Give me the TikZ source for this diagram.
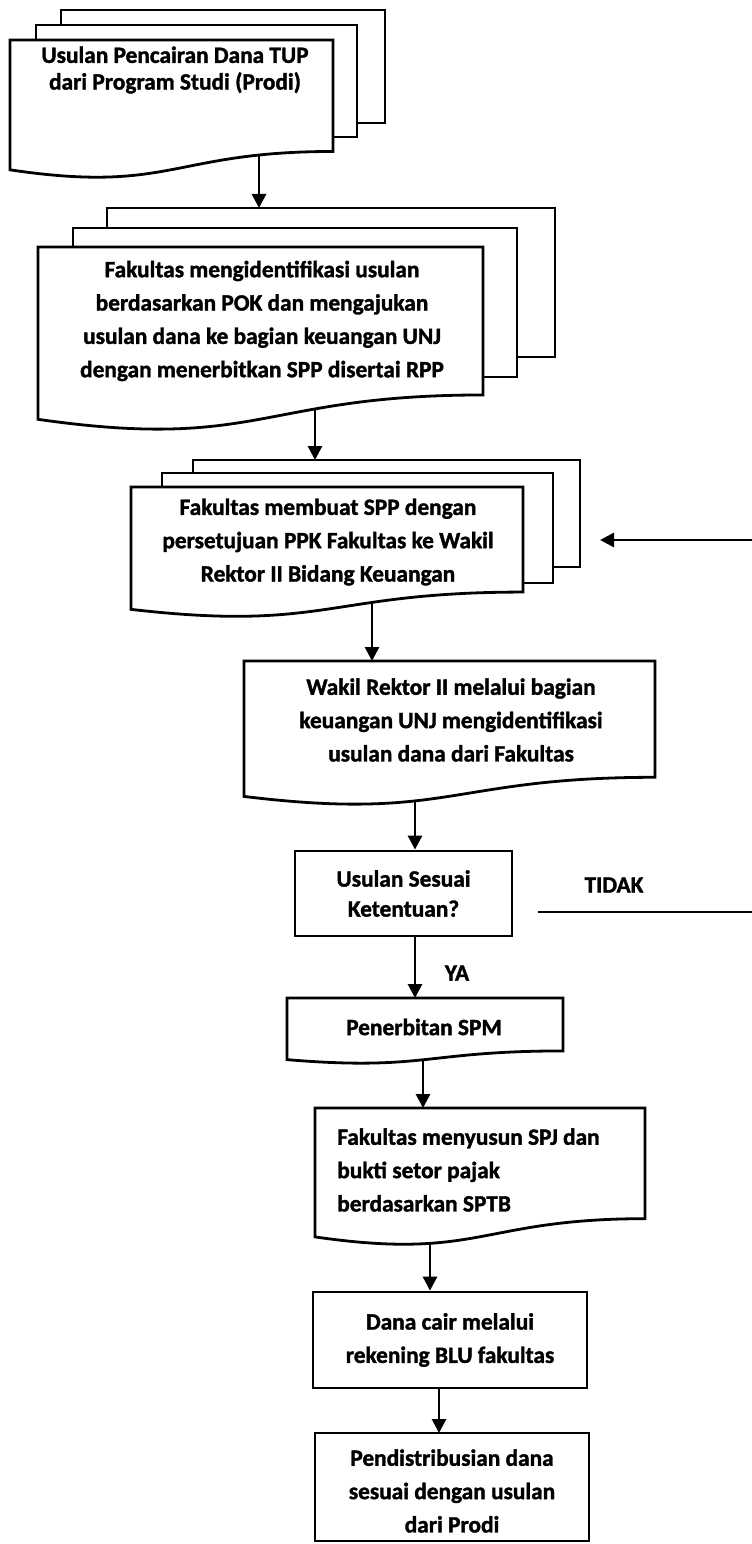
\documentclass[tikz,border=0pt]{standalone}
\usepackage{fontspec}
\setmainfont{Carlito}[BoldFeatures={FakeBold=1.5}]
\usetikzlibrary{arrows.meta}

\newcommand{\docsheet}[4]{%
  \draw[sheet] (#1,#2) -- (#3,#2) -- (#3,{#2+0.802*#4})
    .. controls ({(#1+#3)/2},{#2+0.802*#4}) and ({(#1+#3)/2},{#2+1.107*#4}) .. (#1,{#2+0.934*#4}) -- cycle;}

\begin{document}
\begin{tikzpicture}[x=0.75pt,y=-0.75pt,
  sheet/.style={draw,line width=2.1pt,fill=white},
  txt/.style={font=\bfseries\fontsize{17.5}{25}\selectfont,align=center,inner sep=0pt},
  arr/.style={-{Triangle[width=10.5pt,length=10.5pt]},line width=2.1pt}]
\useasboundingbox (0,0) rectangle (752,1544);

\draw[sheet] (61,10) rectangle (385,123);
\draw[sheet] (36,25) rectangle (357,137);
\docsheet{10}{40}{333}{139}
\node[txt,font=\bfseries\fontsize{17.5}{20}\selectfont] (prodi) at (175,70) {Usulan Pencairan Dana TUP\\dari Program Studi (Prodi)};

\draw[sheet] (107,208) rectangle (555,357);
\draw[sheet] (73,228) rectangle (517,377);
\docsheet{38}{247}{483}{184.5}
\node[txt] (pok) at (262,321) {Fakultas mengidentifikasi usulan\\berdasarkan POK dan mengajukan\\usulan dana ke bagian keuangan UNJ\\dengan menerbitkan SPP disertai RPP};

\draw[sheet] (193,460) rectangle (580,567);
\draw[sheet] (162,473) rectangle (553,583);
\docsheet{131}{487}{523}{131}
\node[txt] (spp) at (328,542) {Fakultas membuat SPP dengan\\persetujuan PPK Fakultas ke Wakil\\Rektor II Bidang Keuangan};

\docsheet{244}{661}{655}{145}
\node[txt] (wr) at (451,720) {Wakil Rektor II melalui bagian\\keuangan UNJ mengidentifikasi\\usulan dana dari Fakultas};

\node[draw,line width=2.1pt,minimum width=162.75pt,minimum height=63.75pt,txt,
  font=\bfseries\fontsize{17.5}{22.5}\selectfont] (cek) at (403.5,893.5) {Usulan Sesuai\\Ketentuan?};
\node[txt] (tidak) at (614,885) {TIDAK};
\node[txt] (ya) at (457,973) {YA};

\docsheet{287}{998}{563}{66}
\node[txt] (spm) at (424,1027) {Penerbitan SPM};

\docsheet{315}{1108}{645}{138}
\node[txt,align=left,anchor=west] (spj) at (337,1170) {Fakultas menyusun SPJ dan\\bukti setor pajak\\berdasarkan SPTB};

\node[draw,line width=2.1pt,minimum width=205.5pt,minimum height=72pt,txt] (cair) at (450,1340) {Dana cair melalui\\rekening BLU fakultas};
\draw[line width=2.1pt] (315,1433) rectangle (589,1541);
\node[txt] (bagi) at (452,1491) {Pendistribusian dana\\sesuai dengan usulan\\dari Prodi};

\coordinate (prodi-out) at (259,155);
\coordinate (pok-in) at (259,208);
\coordinate (pok-out) at (315,409);
\coordinate (spp-in) at (315,460);
\coordinate (spp-out) at (372,602);
\coordinate (wr-in) at (372,661);
\coordinate (wr-out) at (415,801);
\coordinate (spm-in) at (415,998);
\coordinate (spm-out) at (423,1060);
\coordinate (spj-in) at (423,1108);
\coordinate (spj-out) at (430,1243);
\coordinate (bagi-in) at (439,1433);
\coordinate (tidak-a) at (538,912);
\coordinate (tidak-b) at (752,912);
\coordinate (balik-a) at (752,540);
\coordinate (balik-b) at (600,540);

\draw[arr] (prodi-out) -- (pok-in);
\draw[arr] (pok-out) -- (spp-in);
\draw[arr] (spp-out) -- (wr-in);
\draw[arr] (wr-out) -- (cek.north -| wr-out);
\draw[arr] (cek.south -| wr-out) -- (spm-in);
\draw[arr] (spm-out) -- (spj-in);
\draw[arr] (spj-out) -- (cair.north -| spj-out);
\draw[arr] (cair.south -| bagi-in) -- (bagi-in);
\draw[line width=2.1pt] (tidak-a) -- (tidak-b);
\draw[arr] (balik-a) -- (balik-b);
\end{tikzpicture}
\end{document}
